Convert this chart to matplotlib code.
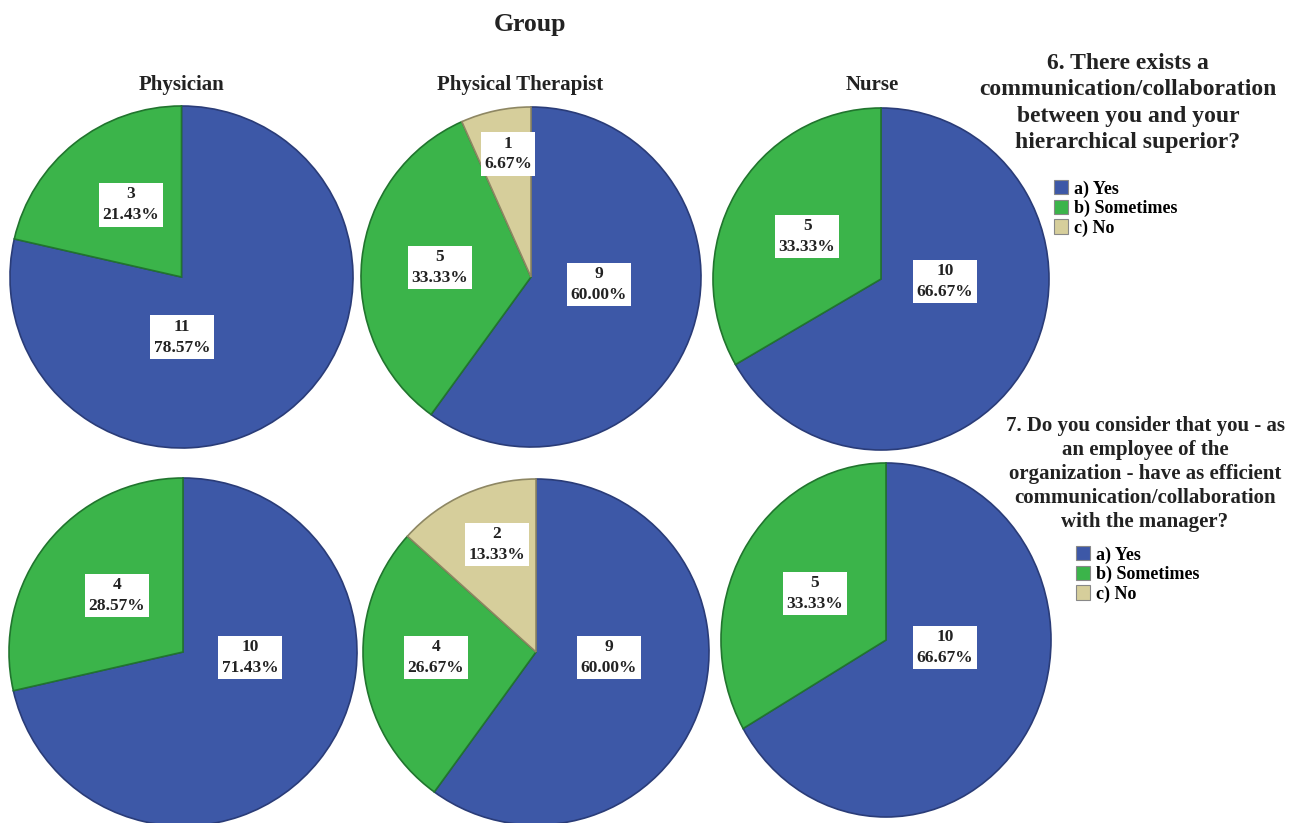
import matplotlib
matplotlib.use("Agg")
import matplotlib.pyplot as plt
from matplotlib.patches import Patch

# ---------------- data ----------------
groups = ["Physician", "Physical Therapist", "Nurse"]
answers = ["a) Yes", "b) Sometimes", "c) No"]
q6_title = "6. There exists a\ncommunication/collaboration\nbetween you and your\nhierarchical superior?"
q7_title = ("7. Do you consider that you - as\nan employee of the\norganization - have as efficient\n"
            "communication/collaboration\nwith the manager?")
q6_physician = [11, 3, 0]
q6_therapist = [9, 5, 1]
q6_nurse = [10, 5, 0]
q7_physician = [10, 4, 0]
q7_therapist = [9, 4, 2]
q7_nurse = [10, 5, 0]

# ---------------- style / layout ----------------
W, H = 1308, 823
colors = ["#3D58A7", "#3BB44A", "#D6CE9B"]
edges = ["#2A3C78", "#21752E", "#8E8763"]
FONT = "Liberation Serif"
TXT = "#222222"

# pie centres / radii in pixels (cx, cy, rx, ry)
pie_boxes = [
    [(181.5, 277, 171.5, 171), (531, 277, 170, 170), (881, 279, 168, 171)],
    [(183, 652, 174, 174), (536, 652, 173, 173), (886, 640, 165, 177)],
]
subtitle_x = [181, 520, 872]
# label positions in units of radius, one per non-zero wedge (Yes, Sometimes, No)
label_pos = [
    [[(0.003, -0.353), (-0.294, 0.423)],
     [(0.40, -0.044), (-0.535, 0.056), (-0.135, 0.724)],
     [(0.381, -0.015), (-0.44, 0.249)]],
    [[(0.385, -0.032), (-0.379, 0.325)],
     [(0.422, -0.032), (-0.578, -0.032), (-0.225, 0.621)],
     [(0.358, -0.042), (-0.43, 0.263)]],
]

data = [[q6_physician, q6_therapist, q6_nurse],
        [q7_physician, q7_therapist, q7_nurse]]

fig = plt.figure(figsize=(W / 100, H / 100), dpi=100)
fig.patch.set_facecolor("white")

for r in range(2):
    for c in range(3):
        cx, cy, rx, ry = pie_boxes[r][c]
        ax = fig.add_axes([(cx - rx) / W, 1 - (cy + ry) / H, 2 * rx / W, 2 * ry / H])
        vals = data[r][c]
        idx = [i for i, v in enumerate(vals) if v > 0]
        wedges, _ = ax.pie([vals[i] for i in idx], colors=[colors[i] for i in idx],
                           startangle=90, counterclock=False, radius=1,
                           wedgeprops=dict(linewidth=1.2))
        for w, i in zip(wedges, idx):
            w.set_edgecolor(edges[i])
        ax.set_aspect("auto")
        ax.set_xlim(-1, 1)
        ax.set_ylim(-1, 1)
        ax.axis("off")
        total = sum(vals)
        for k, i in enumerate(idx):
            x, y = label_pos[r][c][k]
            ax.text(x, y, f"{vals[i]}\n{vals[i] / total * 100:.2f}%", ha="center", va="center",
                    fontsize=12.5, fontweight="bold", family=FONT, color=TXT, linespacing=1.4,
                    bbox=dict(boxstyle="square,pad=0.2", fc="white", ec="none"))

# titles
fig.text(530 / W, 1 - 25 / H, "Group", ha="center", va="center", fontsize=18.5,
         fontweight="bold", family=FONT, color=TXT)
for c, g in enumerate(groups):
    fig.text(subtitle_x[c] / W, 1 - 85 / H, g, ha="center", va="center", fontsize=15,
             fontweight="bold", family=FONT, color=TXT)

fig.text(1128 / W, 1 - 103 / H, q6_title, ha="center", va="center", fontsize=17,
         fontweight="bold", family=FONT, color=TXT, linespacing=1.33)
fig.text(1145 / W, 1 - 474 / H, q7_title, ha="center", va="center", fontsize=15,
         fontweight="bold", family=FONT, color=TXT, linespacing=1.25)

handles = [Patch(facecolor=colors[i], edgecolor="#888888", linewidth=0.8) for i in range(3)]
for (lx, ly) in [(1054, 180), (1076, 546)]:
    fig.legend(handles, answers, loc="upper left", bbox_to_anchor=(lx / W, 1 - ly / H),
               frameon=False, handlelength=0.8, handleheight=0.85,
               handletextpad=0.3, labelspacing=0.12, borderpad=0, borderaxespad=0,
               prop=dict(family=FONT, weight="bold", size=13))

fig.savefig("out.png", dpi=100, facecolor="white")
